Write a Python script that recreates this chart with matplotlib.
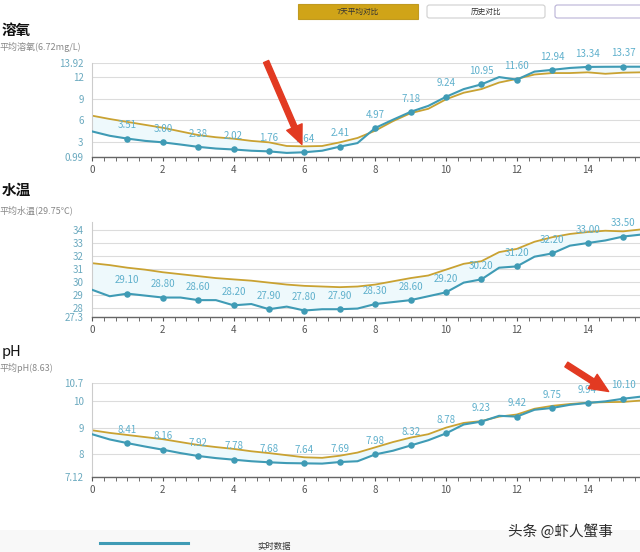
import numpy as np
import matplotlib
matplotlib.use("Agg")
import matplotlib.pyplot as plt
from matplotlib.patches import FancyBboxPatch, Rectangle
from matplotlib.ticker import MultipleLocator

plt.rcParams['font.family'] = ['Noto Sans CJK SC', 'DejaVu Sans']

# 时间轴 (每半小时一个点) 和标注点
x_line = np.arange(0, 16, 0.5)
x_mark = np.arange(1, 16)

# 溶氧
do_real = [4.5, 3.9, 3.51, 3.2, 3.00, 2.7, 2.38, 2.15, 2.02, 1.85, 1.76, 1.55, 1.64, 1.85, 2.41, 2.9,
           4.97, 6.1, 7.18, 8.0, 9.24, 10.3, 10.95, 11.95, 11.60, 12.7, 12.94, 13.2, 13.34, 13.36, 13.37, 13.37]
do_avg = [6.66, 6.2, 5.8, 5.4, 5.0, 4.5, 4.0, 3.7, 3.5, 3.2, 3.0, 2.5, 2.45, 2.5, 3.0, 3.6,
          4.6, 5.9, 7.0, 7.6, 8.9, 9.8, 10.3, 11.2, 11.7, 12.3, 12.5, 12.5, 12.6, 12.4, 12.55, 12.6]
do_labels = [3.51, 3.00, 2.38, 2.02, 1.76, 1.64, 2.41, 4.97, 7.18, 9.24, 10.95, 11.60, 12.94, 13.34, 13.37]

# 水温
temp_real = [29.4, 28.9, 29.1, 28.95, 28.8, 28.8, 28.6, 28.6, 28.2, 28.3, 27.9, 28.1, 27.8, 27.9, 27.9, 27.95,
             28.3, 28.45, 28.6, 28.9, 29.2, 29.95, 30.2, 31.1, 31.2, 31.95, 32.2, 32.8, 33.0, 33.2, 33.5, 33.65]
temp_avg = [31.45, 31.3, 31.1, 30.95, 30.75, 30.6, 30.45, 30.3, 30.2, 30.1, 29.95, 29.8, 29.7, 29.65, 29.6, 29.65,
            29.8, 30.05, 30.3, 30.5, 30.95, 31.4, 31.6, 32.3, 32.55, 33.1, 33.45, 33.7, 33.85, 33.95, 33.9, 34.05]
temp_labels = [29.10, 28.80, 28.60, 28.20, 27.90, 27.80, 27.90, 28.30, 28.60, 29.20, 30.20, 31.20, 32.20, 33.00, 33.50]

# pH
ph_real = [8.75, 8.55, 8.41, 8.28, 8.16, 8.03, 7.92, 7.84, 7.78, 7.72, 7.68, 7.65, 7.64, 7.63, 7.69, 7.72,
           7.98, 8.12, 8.32, 8.52, 8.78, 9.12, 9.23, 9.45, 9.42, 9.68, 9.75, 9.87, 9.94, 10.0, 10.10, 10.18]
ph_avg = [8.9, 8.8, 8.72, 8.64, 8.56, 8.45, 8.34, 8.26, 8.19, 8.1, 8.03, 7.95, 7.87, 7.85, 7.93, 8.05,
          8.25, 8.45, 8.62, 8.75, 9.0, 9.18, 9.25, 9.42, 9.5, 9.72, 9.83, 9.9, 9.95, 9.97, 9.98, 10.03]
ph_labels = [8.41, 8.16, 7.92, 7.78, 7.68, 7.64, 7.69, 7.98, 8.32, 8.78, 9.23, 9.42, 9.75, 9.94, 10.10]

BLUE = '#3f9bb5'
GOLD = '#c9a232'
LABEL = '#5fb0cc'

W, H = 640, 552
fig = plt.figure(figsize=(6.4, 5.52), dpi=100)


def fy(py):
    return 1 - py / H


def draw_panel(top_px, bot_px, real, avg, labels, ylim, yticks, ytl, title, sub, title_y, sub_y, bold=True):
    ax = fig.add_axes([92 / W, fy(bot_px), (W - 92) / W, (bot_px - top_px) / H])
    ax.fill_between(x_line, real, avg, color='#eef9fc', lw=0, zorder=1)
    ax.plot(x_line, avg, color=GOLD, lw=1.3, zorder=2)
    ax.plot(x_line, real, color=BLUE, lw=1.5, zorder=3)
    real_at = [real[list(x_line).index(x)] for x in x_mark]
    ax.scatter(x_mark, real_at, s=22, color=BLUE, zorder=4, lw=0)
    for x, v, lab in zip(x_mark, real_at, labels):
        ax.annotate(f'{lab:.2f}', (x, v), xytext=(0, 6), textcoords='offset points',
                    ha='center', va='bottom', fontsize=7, color=LABEL, zorder=5)
    ax.set_xlim(0, 15.48)
    ax.set_ylim(*ylim)
    ax.set_yticks(yticks)
    ax.set_yticklabels(ytl)
    ax.set_xticks(range(0, 16, 2))
    ax.xaxis.set_minor_locator(MultipleLocator(1 / 3))
    ax.tick_params(axis='y', length=0, labelsize=7, labelcolor='#6aa9bf', pad=6)
    ax.tick_params(axis='x', which='both', length=3, color='#555555', labelsize=7,
                   labelcolor='#555555', direction='out', pad=3)
    ax.grid(axis='y', color='#dcdcdc', lw=0.8)
    ax.set_axisbelow(True)
    for s in ['top', 'right']:
        ax.spines[s].set_visible(False)
    ax.spines['left'].set_color('#cccccc')
    ax.spines['bottom'].set_color('#666666')
    ax.spines['bottom'].set_linewidth(1.0)
    fig.text(2 / W, fy(title_y), title, fontsize=10.5, fontweight='bold' if bold else 'normal',
             va='center', ha='left', color='#111111')
    fig.text(0 / W, fy(sub_y), sub, fontsize=6.5, va='center', ha='left', color='#888888')
    return ax


draw_panel(62.7, 157, do_real, do_avg, do_labels, (0.99, 13.92),
           [0.99, 3, 6, 9, 12, 13.92], ['0.99', '3', '6', '9', '12', '13.92'],
           '溶氧', '平均溶氧(6.72mg/L)', 30, 47)
draw_panel(222.3, 317, temp_real, temp_avg, temp_labels, (27.3, 34.6),
           [27.3, 28, 29, 30, 31, 32, 33, 34], ['27.3', '28', '29', '30', '31', '32', '33', '34'],
           '水温', '平均水温(29.75℃)', 190, 210)
draw_panel(383, 477, ph_real, ph_avg, ph_labels, (7.12, 10.7),
           [7.12, 8, 9, 10, 10.7], ['7.12', '8', '9', '10', '10.7'],
           'pH', '平均pH(8.63)', 352, 368, bold=False)

# 顶部按钮
fig.patches.append(Rectangle((298 / W, fy(19)), 120 / W, 15 / H, transform=fig.transFigure,
                             facecolor='#d0a418', edgecolor='#c09a20', lw=0.8))
fig.text(358 / W, fy(11.5), '7天平均对比', fontsize=5.5, ha='center', va='center', color='#333333')
fig.patches.append(FancyBboxPatch((427 / W, fy(18)), 118 / W, 13 / H, transform=fig.transFigure,
                                  boxstyle='round,pad=0,rounding_size=0.004',
                                  facecolor='white', edgecolor='#cfcfcf', lw=0.8))
fig.text(486 / W, fy(11.5), '历史对比', fontsize=5.5, ha='center', va='center', color='#333333')
fig.patches.append(FancyBboxPatch((555 / W, fy(18)), 90 / W, 13 / H, transform=fig.transFigure,
                                  boxstyle='round,pad=0,rounding_size=0.004',
                                  facecolor='white', edgecolor='#b9b2d6', lw=0.8))

# 红色箭头
arrow = dict(arrowstyle='simple,head_length=1.7,head_width=1.5,tail_width=0.5',
             color='#e23a22', mutation_scale=8)
fig.add_artist(plt.Annotation('', xy=(303, H - 147), xytext=(265, H - 59),
                              xycoords='figure pixels', arrowprops=arrow))
fig.add_artist(plt.Annotation('', xy=(611, H - 393), xytext=(564, H - 363),
                              xycoords='figure pixels', arrowprops=arrow))

# 图例 + 水印
fig.patches.append(Rectangle((0, 0), 1, 22 / H, transform=fig.transFigure,
                             facecolor='#f8f8f8', edgecolor='none', zorder=0))
fig.add_artist(plt.Line2D([100 / W, 188 / W], [fy(543), fy(543)], color=BLUE, lw=2.2))
fig.text(257 / W, fy(547), '实时数据', fontsize=6, ha='left', va='center', color='#333333')
fig.text(508 / W, fy(531), '头条 @虾人蟹事', fontsize=10.5, ha='left', va='center', color='#2a2a2a')

fig.savefig('out.png', dpi=100, facecolor='white')
